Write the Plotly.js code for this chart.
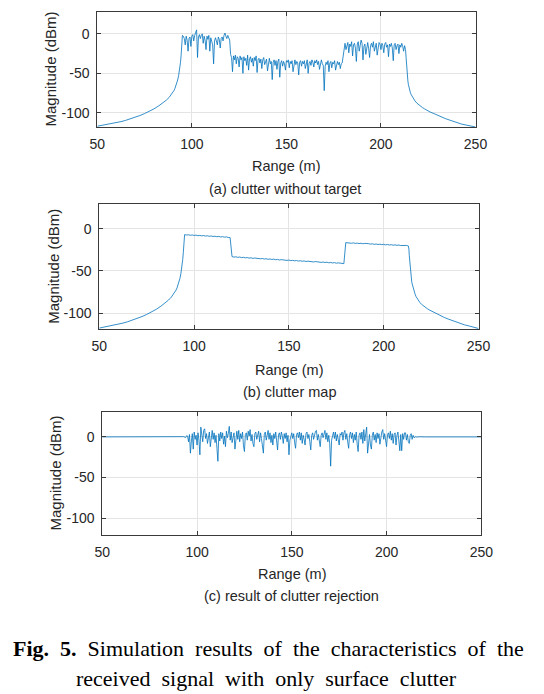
<!DOCTYPE html>
<html>
<head>
<meta charset="utf-8">
<script src="https://cdn.plot.ly/plotly-3.0.1.min.js"></script>
<style>html,body{margin:0;padding:0;background:#fff;}#chart{width:544px;height:694px;}</style>
</head>
<body>
<div id="chart"></div>
<script>
// ---------- tick labels ----------
const xTickVals = [50, 100, 150, 200, 250];
const xTickText = ['50', '100', '150', '200', '250'];
const yTickVals = [-100, -50, 0];
const yTickText = ['-100', '-50', '0'];

// ---------- panel (a): clutter without target ----------
const aLeftX = [50, 52.5, 55, 57.5, 60, 62.5, 65, 67.5, 70, 72.5, 75, 77.5, 80, 82.5, 85, 86.5, 88, 89, 90, 90.5, 91, 91.5, 92, 92.5, 93, 93.5, 94, 94.3, 94.6, 94.8];
const aLeftY = [-117, -116, -115, -113.8, -112.6, -111.2, -109.6, -107.8, -105.8, -103.5, -101, -98.1, -95, -91.2, -87, -84, -80.5, -77.5, -74, -72, -69.5, -66.5, -63, -58.5, -53, -46, -36, -28, -18, -10];
const aMidStart = 95, aMidStep = 0.5;
const aMidY = [
 -2,-3,-6,-14,-3,-8,-22,-6,-4,-16,-3,-1,-9,-2,1,5,-30,-4,-1,-6,
 -2,0,-12,-3,-8,-20,-3,-7,-2,-22,-5,-9,-14,-38,-9,-5,-10,-14,-4,-7,
 -18,-6,-4,-9,-2,1,-3,-6,-2,-5,-8,-26,-30,-48,-28,-33,-27,-38,-29,-31,
 -42,-28,-33,-30,-50,-29,-34,-31,-40,-27,-46,-32,-29,-36,-31,-41,-30,-34,-28,-49,
 -33,-31,-37,-32,-44,-33,-30,-39,-35,-32,-47,-34,-31,-38,-35,-58,-36,-33,-40,-34,
 -45,-35,-32,-55,-37,-34,-41,-35,-38,-46,-34,-36,-33,-43,-35,-38,-34,-48,-36,-33,
 -39,-35,-37,-52,-36,-34,-41,-35,-38,-34,-44,-36,-33,-50,-37,-35,-40,-33,-36,-42,
 -34,-37,-33,-39,-35,-45,-36,-33,-38,-40,-72,-41,-36,-39,-34,-48,-37,-35,-43,-36,
 -38,-34,-46,-37,-35,-39,-36,-44,-38,-37,-28,-15,-12,-20,-14,-11,-24,-13,-16,-10,
 -28,-14,-12,-18,-35,-13,-10,-22,-15,-8,-12,-33,-16,-13,-26,-14,-11,-19,-30,-15,
 -12,-17,-10,-22,-14,-12,-27,-15,-11,-13,-20,-12,-15,-24,-13,-11,-17,-14,-29,-13,
 -16,-12,-18,-34,-14,-12,-20,-15,-13,-25,-14,-17,-12,-16,-22,-15,-20
];
const aRightX = [213.3, 213.5, 213.75, 214, 214.25, 214.5, 214.75, 215, 215.5, 216, 216.5, 217, 218, 219, 220, 221, 222, 223, 224, 226, 228, 230, 232, 234, 236, 238, 240, 242.5, 245, 247.5, 250];
const aRightY = [-30, -40, -48, -55, -60, -64, -67.5, -70, -74, -77, -79.5, -82, -85, -87.8, -90, -92, -93.5, -95, -96.5, -99, -101, -103.3, -105.5, -107.3, -109, -110.8, -112.5, -114.2, -115.5, -116.8, -118];

// ---------- panel (b): clutter map ----------
const bLeftX = [50, 52.5, 55, 57.5, 60, 62.5, 65, 67.5, 70, 72.5, 75, 77.5, 80, 82.5, 85, 86.5, 88, 89, 90, 90.5, 91, 91.5, 92, 92.5, 93, 93.5, 94, 94.3, 94.6, 94.8];
const bLeftY = [-117.5, -116.5, -115.4, -114.2, -113, -111.6, -110, -108.2, -106.2, -103.9, -101.4, -98.5, -95.4, -91.6, -87.4, -84.4, -80.9, -78, -74.5, -72.5, -70, -67, -63.5, -59, -53.5, -46.5, -36.5, -28.5, -19, -12];
const bMidStart = 95, bMidStep = 1;
const bMidY = [
 -7.0,-7.5,-7.2,-7.8,-7.4,-8.0,-7.6,-8.3,-7.9,-8.5,-8.1,-8.7,-8.4,-9.0,-8.6,-9.2,-8.9,-9.5,-9.1,-9.8,
 -9.4,-10.0,-9.7,-10.3,-10.6,
 -33.0,-33.6,-33.2,-33.9,-33.5,-34.2,-33.8,-34.5,-34.1,-34.8,-34.4,-35.1,-34.7,-35.3,-35.0,-35.6,-35.2,-35.9,-35.5,-36.2,
 -35.8,-36.4,-36.0,-36.7,-36.3,-37.0,-36.6,-37.2,-36.9,-37.5,-37.1,-37.8,-37.4,-38.0,-37.6,-38.3,-37.9,-38.5,-38.1,-38.8,
 -38.4,-39.0,-38.7,-39.3,-38.9,-39.5,-39.2,-39.8,-39.4,-40.0,-39.6,-40.3,-39.9,-40.5,-40.1,-40.8,-40.4,-41.0,-40.7,-41.3,
 -16.5,-16.9,-16.6,-17.2,-16.8,-17.4,-17.0,-17.6,-17.2,-17.8,-17.4,-18.0,-17.7,-18.2,-17.9,-18.5,-18.1,-18.7,-18.3,-18.9,
 -18.5,-19.1,-18.7,-19.3,-18.9,-19.5,-19.1,-19.7,-19.3,-19.9,-19.6,-20.1,-19.8,-20.4
];
const bRightX = [213.3, 213.5, 213.75, 214, 214.25, 214.5, 214.75, 215, 215.5, 216, 216.5, 217, 218, 219, 220, 221, 222, 223, 224, 226, 228, 230, 232, 234, 236, 238, 240, 242.5, 245, 247.5, 250];
const bRightY = [-24, -32, -40, -47, -53, -58, -62, -65, -70, -74, -77, -80, -84, -87, -89.5, -91.5, -93, -94.6, -96, -98.4, -100.5, -102.8, -105, -106.8, -108.5, -110.3, -112, -113.6, -115, -116.5, -118];

// ---------- panel (c): result of clutter rejection ----------
const cLeftX = [50, 60, 70, 80, 90, 93, 94, 94.5];
const cLeftY = [0, 0, 0, 0, 0, 0.3, -0.8, 1.5];
const cMidStart = 95, cMidStep = 0.5;
const cMidY = [
 1,-6,3,-20,-5,4,-15,6,-3,2,-10,5,-4,-22,12,3,-6,8,10,-2,
 4,-8,2,6,-12,3,8,-3,5,-7,2,-14,-30,4,-5,6,-2,5,-9,1,
 -12,7,-1,4,13,-4,6,-7,3,5,-15,2,7,-3,8,-6,4,-2,6,-11,
 -18,3,5,-4,7,1,9,-5,3,-8,-12,4,6,-3,2,7,-6,5,-2,-9,
 -20,3,6,-4,4,8,-3,5,-7,2,-10,4,-2,6,-5,-16,3,5,-3,6,
 1,-8,4,-2,5,-6,2,-22,-4,3,5,-2,4,-7,-14,3,5,-1,6,-4,
 5,-8,2,-3,-10,4,6,-2,3,-6,-16,2,5,-3,4,7,8,-4,3,-5,
 -12,2,5,-1,4,8,-3,5,-6,2,-8,-36,-4,3,6,-2,6,-5,3,-3,
 -10,4,2,6,-4,5,8,-3,4,-6,-14,3,6,-2,5,-7,3,-4,6,-9,
 -18,2,5,-3,6,-8,9,-5,4,12,-20,-6,3,-10,-15,2,6,-4,3,-7,
 5,-2,4,-9,3,6,9,-3,4,-6,-12,3,5,-2,7,-4,4,-8,3,5,
 -10,2,6,-5,-17,3,-17,4,-3,5,5,-4,3,-6,-8,2,4,-3,2,-1,
 0
];
const cRightX = [215.5, 216, 217, 220, 230, 240, 250];
const cRightY = [0.5, -0.4, 0.2, 0, 0, 0, 0];

// ---------- assemble series ----------
function grid(start, step, n) { const g = []; for (let i = 0; i < n; i++) g.push(start + i * step); return g; }
function series(lx, ly, s, st, my, rx, ry) {
  return { x: lx.concat(grid(s, st, my.length), rx), y: ly.concat(my, ry) };
}
const A = series(aLeftX, aLeftY, aMidStart, aMidStep, aMidY, aRightX, aRightY);
const B = series(bLeftX, bLeftY, bMidStart, bMidStep, bMidY, bRightX, bRightY);
const C = series(cLeftX, cLeftY, cMidStart, cMidStep, cMidY, cRightX, cRightY);

const W = 544, H = 694;
const px = v => v / W, py = v => 1 - v / H;
const lineStyle = { color: '#0072BD', width: 0.8 };
const traces = [
  { x: A.x, y: A.y, type: 'scatter', mode: 'lines', line: lineStyle, xaxis: 'x', yaxis: 'y', hoverinfo: 'skip' },
  { x: B.x, y: B.y, type: 'scatter', mode: 'lines', line: lineStyle, xaxis: 'x2', yaxis: 'y2', hoverinfo: 'skip' },
  { x: C.x, y: C.y, type: 'scatter', mode: 'lines', line: lineStyle, xaxis: 'x3', yaxis: 'y3', hoverinfo: 'skip' }
];

const sans = 'Liberation Sans, Arial, sans-serif';
const txt = '#262626';
function xa(dom, anchor) {
  return { domain: dom, anchor: anchor, range: [50, 250], tickmode: 'array', tickvals: xTickVals, ticktext: xTickText,
    showgrid: true, gridcolor: '#e4e4e4', gridwidth: 1, zeroline: false, showline: true, linecolor: '#3a3a3a', linewidth: 1,
    mirror: 'ticks', ticks: 'inside', ticklen: 4, tickcolor: '#3a3a3a', ticklabelstandoff: 4,
    tickfont: { family: sans, size: 14, color: txt } };
}
function ya(dom, anchor, rng) {
  return { domain: dom, anchor: anchor, range: rng, tickmode: 'array', tickvals: yTickVals, ticktext: yTickText,
    showgrid: true, gridcolor: '#e4e4e4', gridwidth: 1, zeroline: false, showline: true, linecolor: '#3a3a3a', linewidth: 1,
    mirror: 'ticks', ticks: 'inside', ticklen: 4, tickcolor: '#3a3a3a', ticklabelstandoff: 4,
    tickfont: { family: sans, size: 14, color: txt } };
}

function ann(text, x, y, size, opts) {
  return Object.assign({ text: text, x: px(x), y: py(y), xref: 'paper', yref: 'paper', showarrow: false,
    xanchor: 'center', yanchor: 'middle', font: { family: sans, size: size, color: txt } }, opts || {});
}
const serif = 'Liberation Serif, Times New Roman, serif';
const sp = '\u00A0 ';
const line1 = '<b>Fig.' + sp + '5.</b>' + sp + ['Simulation', 'results', 'of', 'the', 'characteristics', 'of', 'the'].join(sp);
const line2 = ['received', 'signal', 'with', 'only', 'surface', 'clutter'].join(sp);

const layout = {
  width: W, height: H, margin: { l: 0, r: 0, t: 0, b: 0 }, paper_bgcolor: '#fff', plot_bgcolor: '#fff', showlegend: false,
  xaxis: xa([px(97.3), px(475.5)], 'y'),
  yaxis: ya([py(127), py(11.7)], 'x', [-118, 28]),
  xaxis2: xa([px(99.3), px(478.5)], 'y2'),
  yaxis2: ya([py(329), py(204)], 'x2', [-118.6, 29.2]),
  xaxis3: xa([px(102.3), px(481.3)], 'y3'),
  yaxis3: ya([py(535.3), py(411.7)], 'x3', [-121, 31]),
  annotations: [
    ann('Range (m)', 286.5, 166, 14.5),
    ann('(a) clutter without target', 285, 189, 14.5),
    ann('Magnitude (dBm)', 50, 69.5, 15, { textangle: -90 }),
    ann('Range (m)', 289, 370, 14.5),
    ann('(b) clutter map', 289, 392, 14.5),
    ann('Magnitude (dBm)', 53.3, 266.5, 15, { textangle: -90 }),
    ann('Range (m)', 292, 573.5, 14.5),
    ann('(c) result of clutter rejection', 291, 596, 14.5),
    ann('Magnitude (dBm)', 55, 473.5, 15, { textangle: -90 }),
    ann(line1, 268, 648, 22, { font: { family: serif, size: 22, color: '#000' } }),
    ann(line2, 266, 678, 22, { font: { family: serif, size: 22, color: '#000' } })
  ]
};

Plotly.newPlot('chart', traces, layout, { staticPlot: true, displayModeBar: false });
</script>
</body>
</html>
